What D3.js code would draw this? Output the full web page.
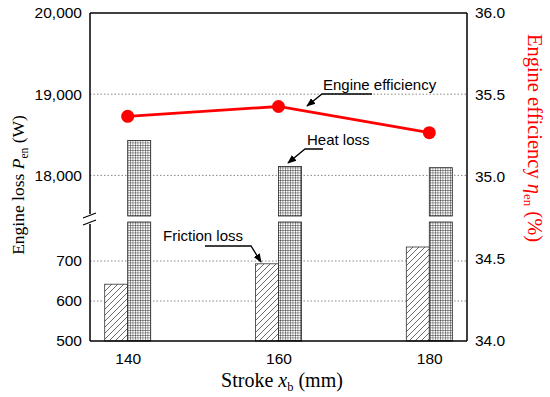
<!DOCTYPE html>
<html><head><meta charset="utf-8">
<script src="https://cdn.jsdelivr.net/npm/d3@7"></script>
<style>body{margin:0;background:#fff}svg{display:block}</style>
</head><body>
<script>
const strokes = [140, 160, 180];
const frictionLoss = [642, 693, 735];
const heatLoss = [18430, 18110, 18095];
const efficiency = [35.37, 35.43, 35.27];
const leftUpperTicks = [18000, 19000, 20000];
const leftLowerTicks = [500, 600, 700];
const rightTicks = [34.0, 34.5, 35.0, 35.5, 36.0];

const W = 550, H = 397;
const L = 90, R = 467, T = 13, B = 341, breakTop = 216, breakBot = 222;
const svg = d3.select("body").append("svg").attr("width", W).attr("height", H);

const x = d3.scaleLinear().domain([135, 185]).range([L, R]);
const yUp = d3.scaleLinear().domain([17500, 20000]).range([breakTop, T]);
const yLo = d3.scaleLinear().domain([500, 797.5]).range([B, breakBot]);
const yR = d3.scaleLinear().domain([34, 36]).range([B, T]);

const defs = svg.append("defs");
const hatch = defs.append("pattern").attr("id", "hatch").attr("patternUnits", "userSpaceOnUse")
  .attr("width", 6).attr("height", 6);
hatch.append("rect").attr("width", 6).attr("height", 6).attr("fill", "#fff");
hatch.append("path").attr("d", "M-1,7 L7,-1 M-1,1 L1,-1 M5,7 L7,5").attr("stroke", "#444").attr("stroke-width", 0.8);
const grid = defs.append("pattern").attr("id", "grid").attr("patternUnits", "userSpaceOnUse")
  .attr("width", 2.5).attr("height", 2.5);
grid.append("rect").attr("width", 2.5).attr("height", 2.5).attr("fill", "#fff");
grid.append("path").attr("d", "M0,0 H2.5 M0,0 V2.5").attr("stroke", "#111").attr("stroke-width", 0.8);

// gridlines
const gl = svg.append("g").attr("stroke", "#888").attr("stroke-width", 1).attr("stroke-dasharray", "1.5,2");
[18000, 19000].forEach(v => gl.append("line").attr("x1", L).attr("x2", R).attr("y1", yUp(v)).attr("y2", yUp(v)));
[600, 700].forEach(v => gl.append("line").attr("x1", L).attr("x2", R).attr("y1", yLo(v)).attr("y2", yLo(v)));

const bw = 23;
// friction bars
svg.append("g").selectAll("rect").data(strokes).join("rect")
  .attr("x", d => x(d) - bw).attr("width", bw)
  .attr("y", (d, i) => yLo(frictionLoss[i])).attr("height", (d, i) => B - yLo(frictionLoss[i]))
  .attr("fill", "url(#hatch)").attr("stroke", "#333").attr("stroke-width", 0.8);
// heat bars lower segment
svg.append("g").selectAll("rect").data(strokes).join("rect")
  .attr("x", d => x(d)).attr("width", bw)
  .attr("y", breakBot).attr("height", B - breakBot)
  .attr("fill", "url(#grid)").attr("stroke", "#222").attr("stroke-width", 0.8);
// heat bars upper segment
svg.append("g").selectAll("rect").data(strokes).join("rect")
  .attr("x", d => x(d)).attr("width", bw)
  .attr("y", (d, i) => yUp(heatLoss[i])).attr("height", (d, i) => breakTop - yUp(heatLoss[i]))
  .attr("fill", "url(#grid)").attr("stroke", "#222").attr("stroke-width", 0.8);

// efficiency line
const line = d3.line().x((d, i) => x(strokes[i])).y(d => yR(d));
svg.append("path").datum(efficiency).attr("d", line).attr("fill", "none").attr("stroke", "#ff0000").attr("stroke-width", 2.8);
svg.append("g").selectAll("circle").data(efficiency).join("circle")
  .attr("cx", (d, i) => x(strokes[i])).attr("cy", d => yR(d)).attr("r", 6.5).attr("fill", "#ff0000");

// frame
const fr = svg.append("g").attr("stroke", "#000").attr("stroke-width", 1.5).attr("fill", "none");
fr.append("line").attr("x1", L).attr("x2", R).attr("y1", T).attr("y2", T);
fr.append("line").attr("x1", L).attr("x2", R).attr("y1", B).attr("y2", B);
fr.append("line").attr("x1", R).attr("x2", R).attr("y1", T).attr("y2", B);
fr.append("line").attr("x1", L).attr("x2", L).attr("y1", T).attr("y2", breakTop - 2);
fr.append("line").attr("x1", L).attr("x2", L).attr("y1", breakBot + 2).attr("y2", B);
fr.append("line").attr("x1", L - 7).attr("x2", L + 6).attr("y1", breakTop + 2).attr("y2", breakTop - 3).attr("stroke-width", 1.2);
fr.append("line").attr("x1", L - 7).attr("x2", L + 6).attr("y1", breakBot + 3).attr("y2", breakBot - 2).attr("stroke-width", 1.2);

const tickFont = "'Liberation Sans', Arial, sans-serif";
// axes via d3
const axUp = svg.append("g").attr("transform", `translate(${L},0)`)
  .call(d3.axisLeft(yUp).tickValues(leftUpperTicks).tickFormat(d3.format(",")).tickSize(0).tickPadding(8));
const axLo = svg.append("g").attr("transform", `translate(${L},0)`)
  .call(d3.axisLeft(yLo).tickValues(leftLowerTicks).tickFormat(d3.format("d")).tickSize(0).tickPadding(8));
const axR = svg.append("g").attr("transform", `translate(${R},0)`)
  .call(d3.axisRight(yR).tickValues(rightTicks).tickFormat(d3.format(".1f")).tickSize(0).tickPadding(8));
const axB = svg.append("g").attr("transform", `translate(0,${B})`)
  .call(d3.axisBottom(x).tickValues(strokes).tickSize(0).tickPadding(12));
[axUp, axLo, axR, axB].forEach(a => {
  a.select(".domain").remove();
  a.selectAll("text").attr("font-family", tickFont).attr("font-size", 15.5).attr("fill", "#000");
});

// axis titles
const serif = "'Liberation Serif', 'Times New Roman', serif";
const lt = svg.append("text").attr("transform", "translate(24,185) rotate(-90)").attr("text-anchor", "middle")
  .attr("font-family", serif).attr("font-size", 17.5);
lt.append("tspan").text("Engine loss ");
lt.append("tspan").attr("font-style", "italic").text("P");
lt.append("tspan").attr("font-size", 11.5).attr("dy", 4).text("en");
lt.append("tspan").attr("dy", -4).text(" (W)");

const rt = svg.append("text").attr("transform", "translate(528,138) rotate(90)").attr("text-anchor", "middle")
  .attr("font-family", serif).attr("font-size", 20.5).attr("fill", "#ff0000");
rt.append("tspan").text("Engine efficiency ");
rt.append("tspan").attr("font-style", "italic").text("η");
rt.append("tspan").attr("font-size", 13).attr("dy", 4).text("en");
rt.append("tspan").attr("dy", -4).text(" (%)");

const bt = svg.append("text").attr("x", 282).attr("y", 387).attr("text-anchor", "middle")
  .attr("font-family", serif).attr("font-size", 20);
bt.append("tspan").text("Stroke ");
bt.append("tspan").attr("font-style", "italic").text("x");
bt.append("tspan").attr("font-size", 12.5).attr("dy", 4).text("b");
bt.append("tspan").attr("dy", -4).text(" (mm)");

// annotations
defs.append("marker").attr("id", "arr").attr("viewBox", "0 0 10 10").attr("refX", 9).attr("refY", 5)
  .attr("markerWidth", 9).attr("markerHeight", 9).attr("orient", "auto-start-reverse").attr("markerUnits", "userSpaceOnUse")
  .append("path").attr("d", "M0,1 L10,5 L0,9 Z").attr("fill", "#000");
const ann = [
  {text: "Engine efficiency", tx: 323, ty: 90, pts: [[372, 94], [322, 94], [307, 106]]},
  {text: "Heat loss", tx: 307, ty: 145, pts: [[323, 149], [305, 149], [288, 163]]},
  {text: "Friction loss", tx: 163, ty: 241, pts: [[205, 246], [251, 246], [261, 262]]}
];
ann.forEach(a => {
  svg.append("text").attr("x", a.tx).attr("y", a.ty).attr("font-family", tickFont).attr("font-size", 15).text(a.text);
  svg.append("path").attr("d", d3.line()(a.pts)).attr("fill", "none").attr("stroke", "#000").attr("stroke-width", 1.3)
    .attr("marker-end", "url(#arr)");
});
</script>
</body></html>
